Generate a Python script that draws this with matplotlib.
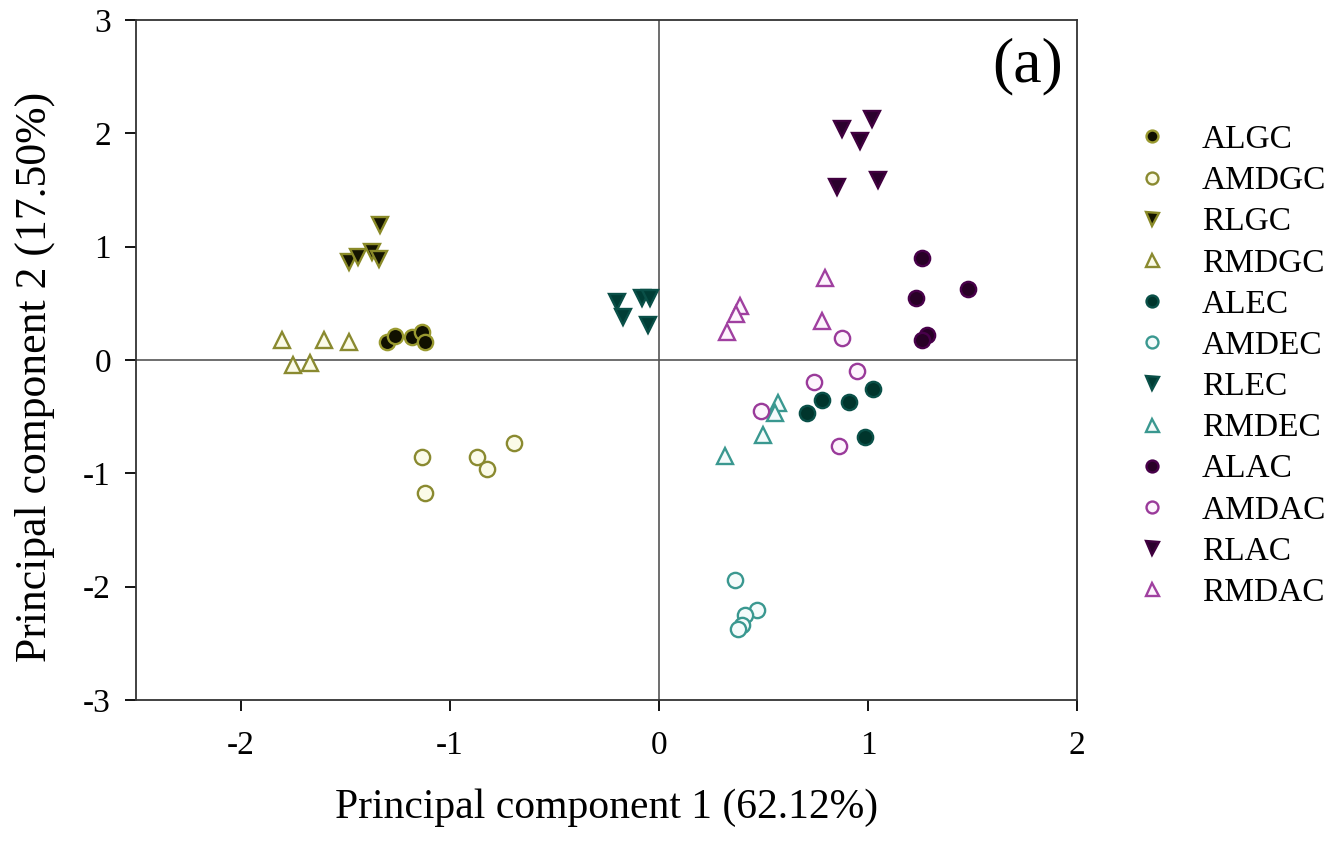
import matplotlib
matplotlib.use("Agg")
import matplotlib.pyplot as plt

plt.rcParams['font.family'] = ['Liberation Serif', 'DejaVu Serif']
plt.rcParams['axes.unicode_minus'] = False

labels = ["ALGC", "AMDGC", "RLGC", "RMDGC", "ALEC", "AMDEC", "RLEC", "RMDEC",
          "ALAC", "AMDAC", "RLAC", "RMDAC"]

ALGC_x = [-1.30, -1.26, -1.18, -1.13, -1.12]
ALGC_y = [0.16, 0.21, 0.20, 0.25, 0.16]
AMDGC_x = [-1.13, -1.12, -0.87, -0.82, -0.69]
AMDGC_y = [-0.86, -1.17, -0.86, -0.96, -0.73]
RLGC_x = [-1.335, -1.48, -1.44, -1.37, -1.34]
RLGC_y = [1.19, 0.865, 0.91, 0.95, 0.89]
RMDGC_x = [-1.80, -1.60, -1.48, -1.75, -1.67]
RMDGC_y = [0.18, 0.18, 0.16, -0.04, -0.03]
ALEC_x = [1.025, 0.78, 0.91, 0.71, 0.985]
ALEC_y = [-0.26, -0.35, -0.37, -0.47, -0.68]
AMDEC_x = [0.365, 0.47, 0.41, 0.40, 0.38]
AMDEC_y = [-1.94, -2.21, -2.25, -2.34, -2.37]
RLEC_x = [-0.20, -0.17, -0.08, -0.04, -0.05]
RLEC_y = [0.51, 0.38, 0.55, 0.55, 0.31]
RMDEC_x = [0.57, 0.555, 0.50, 0.315]
RMDEC_y = [-0.38, -0.47, -0.66, -0.85]
ALAC_x = [1.26, 1.23, 1.48, 1.28, 1.26]
ALAC_y = [0.90, 0.55, 0.63, 0.22, 0.18]
AMDAC_x = [0.875, 0.95, 0.74, 0.49, 0.86]
AMDAC_y = [0.19, -0.10, -0.19, -0.45, -0.76]
RLAC_x = [0.875, 1.02, 0.96, 0.85, 1.05]
RLAC_y = [2.04, 2.13, 1.93, 1.53, 1.59]
RMDAC_x = [0.39, 0.37, 0.325, 0.795, 0.78]
RMDAC_y = [0.48, 0.41, 0.25, 0.72, 0.34]

xs = [ALGC_x, AMDGC_x, RLGC_x, RMDGC_x, ALEC_x, AMDEC_x, RLEC_x, RMDEC_x,
      ALAC_x, AMDAC_x, RLAC_x, RMDAC_x]
ys = [ALGC_y, AMDGC_y, RLGC_y, RMDGC_y, ALEC_y, AMDEC_y, RLEC_y, RMDEC_y,
      ALAC_y, AMDAC_y, RLAC_y, RMDAC_y]

markers = ['o', 'o', 'v', '^'] * 3
faces = ['#101000', '#fbfbe8', '#141400', '#fbfbe8',
         '#00352c', '#f4fbfb', '#003d35', '#f4fbfb',
         '#280026', '#fdf4fd', '#2a002c', '#fdf4fd']
edges = ['#9a9a30', '#8a8a30', '#8a8a28', '#8a8a30',
         '#0a5048', '#3a9890', '#0a5048', '#3a9890',
         '#48004a', '#9a3a9a', '#40003f', '#a040a0']

fig = plt.figure(figsize=(13.38, 8.43), dpi=100)
ax = fig.add_axes([0.1016, 0.1696, 0.7034, 0.8067])

ax.axhline(0, color='#555555', lw=1.2, zorder=1)
ax.axvline(0, color='#555555', lw=1.2, zorder=1)

for i, lab in enumerate(labels):
    ms = 11 if markers[i] == 'o' else 12
    ax.plot(xs[i], ys[i], linestyle='none', marker=markers[i], ms=ms,
            markerfacecolor=faces[i], markeredgecolor=edges[i], mew=1.7,
            label=lab, zorder=3)

ax.set_xlim(-2.5, 2)
ax.set_ylim(-3, 3)
ax.set_xticks([-2, -1, 0, 1, 2])
ax.set_yticks([-3, -2, -1, 0, 1, 2, 3])
ax.tick_params(direction='out', length=8, width=1.3, labelsize=24, pad=10)
ax.tick_params(axis='x', pad=14)
for s in ax.spines.values():
    s.set_linewidth(1.3)
    s.set_color('#333333')

ax.set_xlabel('Principal component 1 (62.12%)', fontsize=30, labelpad=20)
ax.set_ylabel('Principal component 2 (17.50%)', fontsize=31.5)
ax.yaxis.set_label_coords(-0.086, 0.475)

ax.text(0.985, 0.975, '(a)', transform=ax.transAxes, fontsize=46,
        ha='right', va='top')

leg = fig.legend(loc='upper left', bbox_to_anchor=(0.836, 0.868), frameon=False,
                 fontsize=24, markerscale=0.78, handletextpad=0.9,
                 labelspacing=0.32, handlelength=1.2, borderaxespad=0)

fig.savefig('out.png', dpi=100)
